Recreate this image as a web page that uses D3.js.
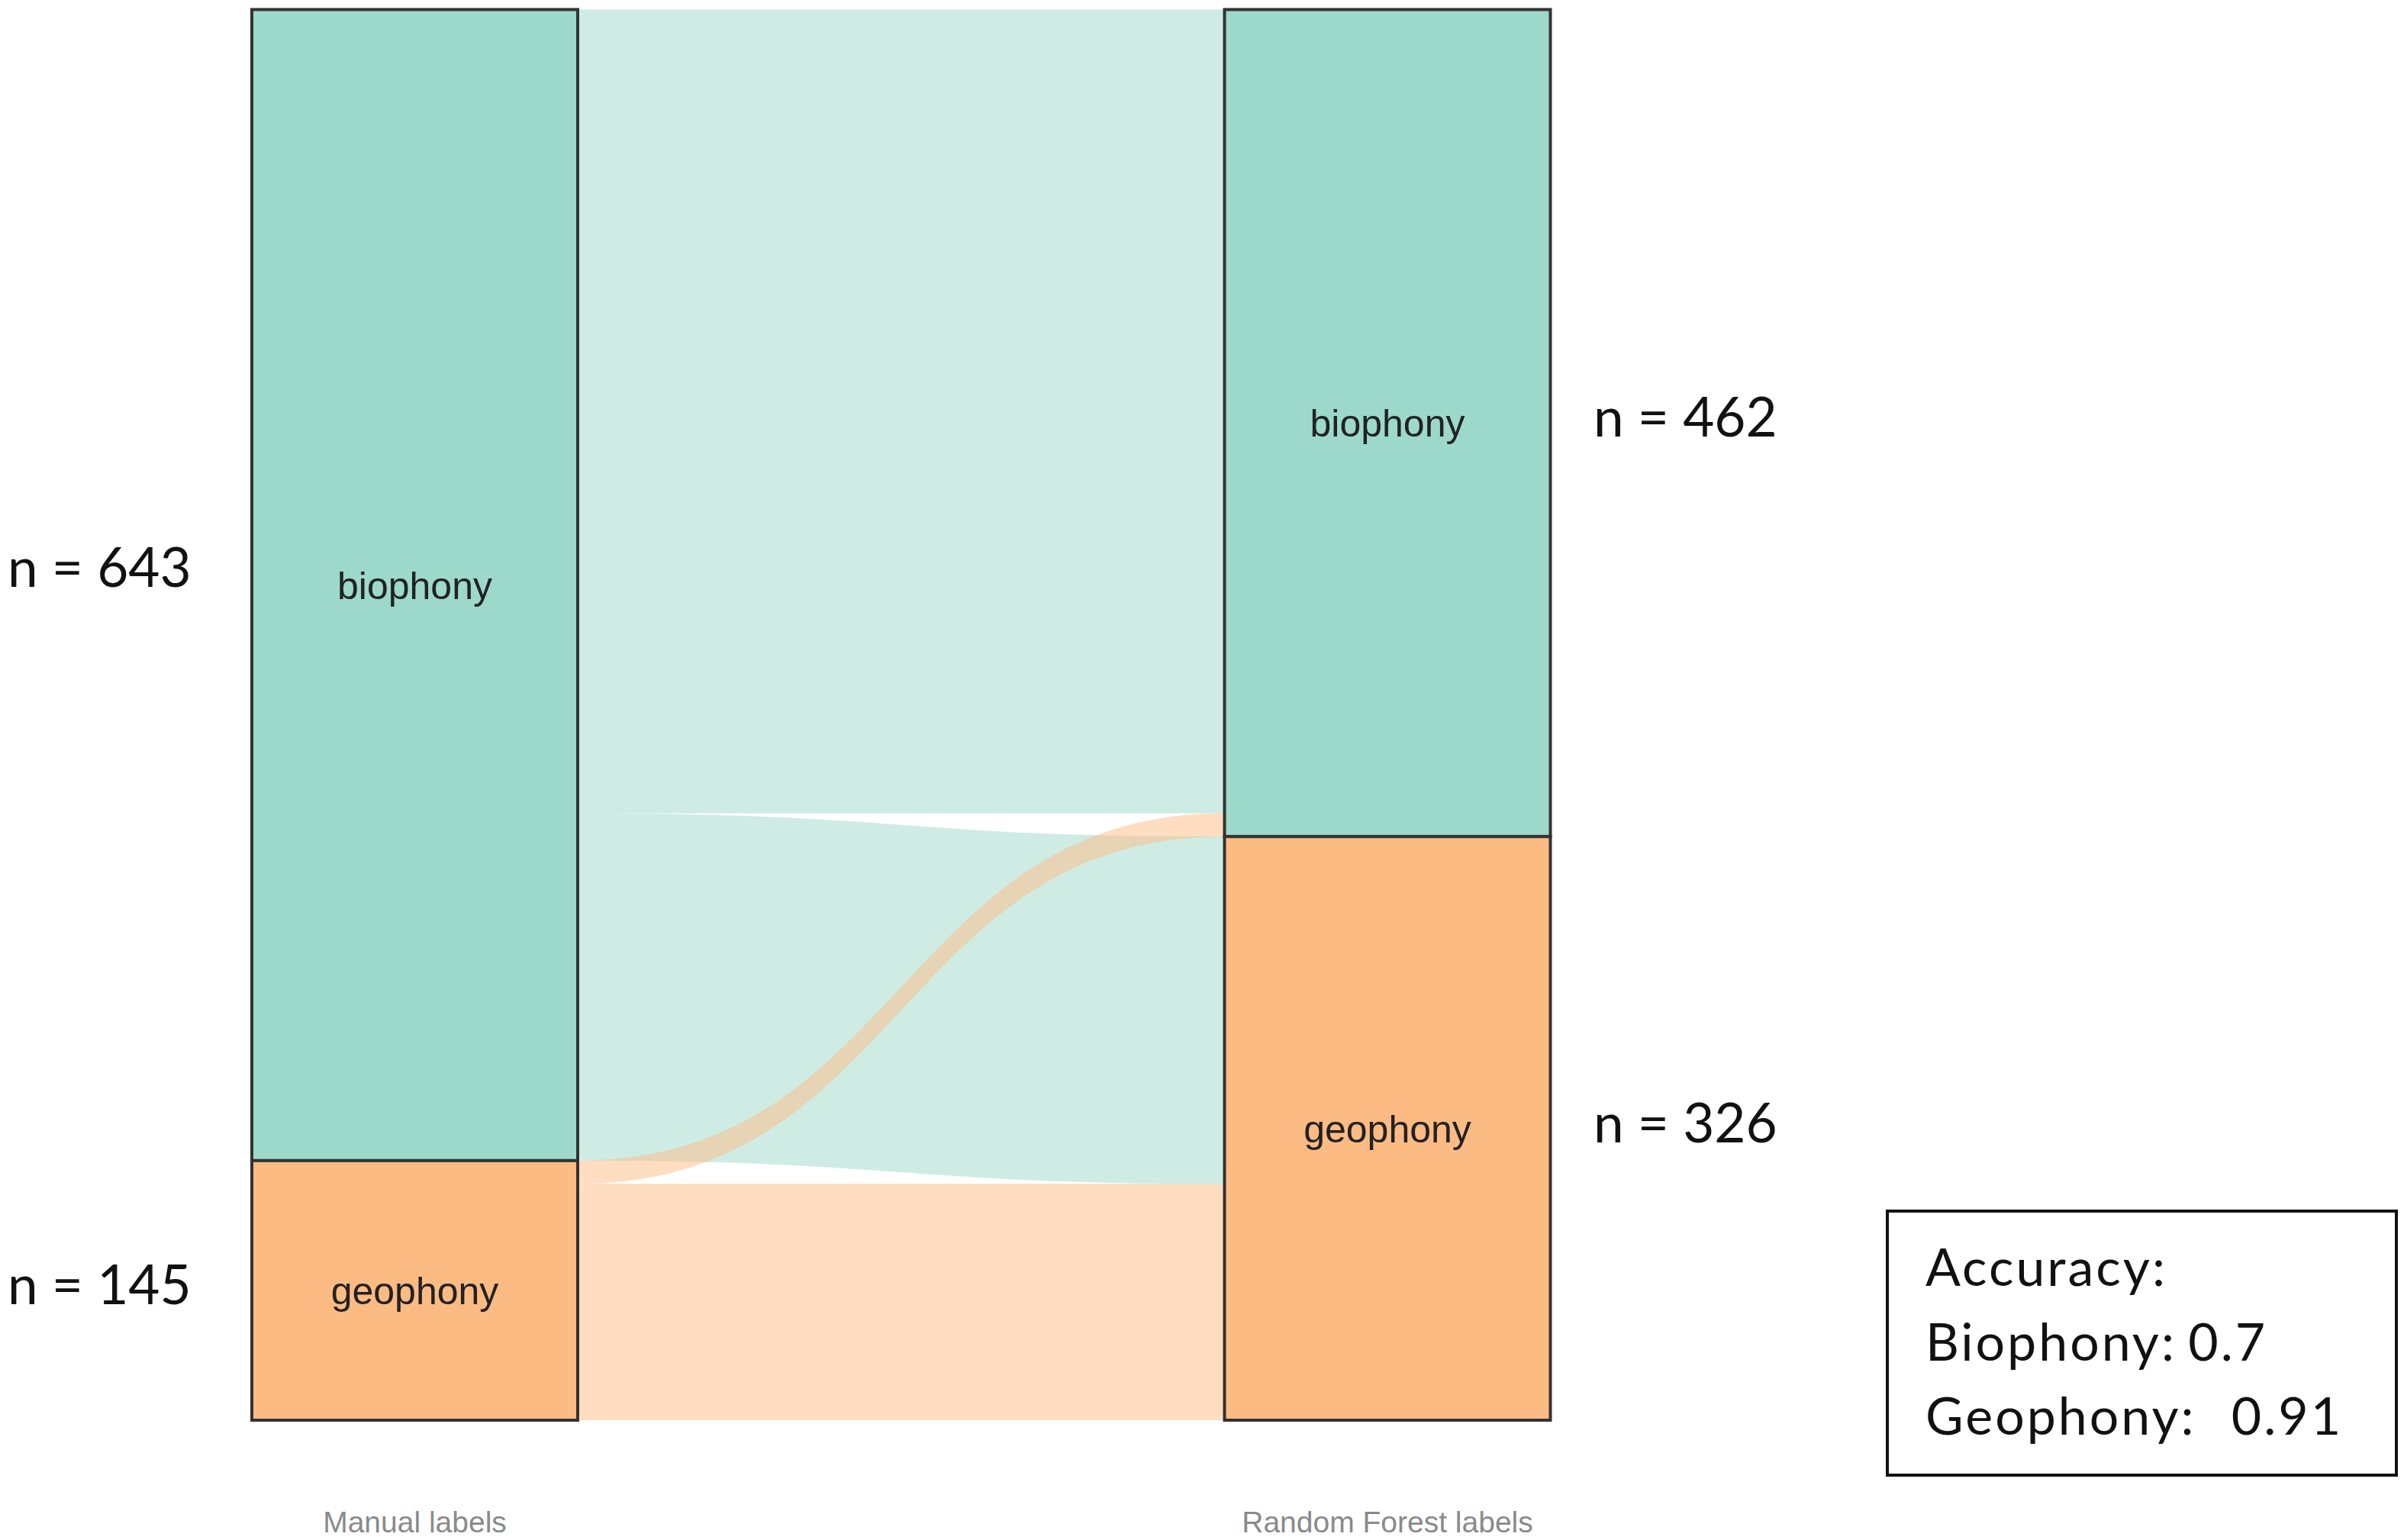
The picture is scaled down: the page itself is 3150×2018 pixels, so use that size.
<!DOCTYPE html>
<html><head><meta charset="utf-8">
<script src="https://cdn.jsdelivr.net/npm/d3@7"></script>
<style>html,body{margin:0;padding:0;background:#fff;} svg{display:block}</style>
</head><body><svg id="c" width="3150" height="2018"></svg>
<script>
// ---- data ----
const axes = ["Manual labels", "Random Forest labels"];
const classes = ["biophony", "geophony"];
const classColors = ["#9DD9CA", "#FDBB84"];
const flowSource = ["biophony", "biophony", "geophony", "geophony"];
const flowTarget = ["biophony", "geophony", "biophony", "geophony"];
const flowCount = [449, 194, 13, 132];
const accuracyLines = ["Accuracy:", "Biophony: 0.7", "Geophony:   0.91"];

// ---- layout ----
const svg = d3.select("#c");
const total = d3.sum(flowCount);
const y = d3.scaleLinear().domain([0, total]).range([12.5, 1861]);
const x = d3.scalePoint().domain(axes).range([543.5, 1818]);
const barW = 427;
const color = d3.scaleOrdinal().domain(classes).range(classColors);

const flows = flowCount.map((v, i) => ({ s: flowSource[i], t: flowTarget[i], v }));

function nodes(axisIdx) {
  let acc = 0;
  return classes.map(c => {
    const v = d3.sum(flows.filter(f => (axisIdx === 0 ? f.s : f.t) === c), f => f.v);
    const n = { axis: axisIdx, cls: c, v, y0: acc, y1: acc + v };
    acc += v;
    return n;
  });
}
const leftNodes = nodes(0), rightNodes = nodes(1);

leftNodes.forEach(n => {
  let acc = n.y0;
  classes.forEach(tc => flows.filter(f => f.s === n.cls && f.t === tc).forEach(f => { f.l0 = acc; acc += f.v; f.l1 = acc; }));
});
rightNodes.forEach(n => {
  let acc = n.y0;
  classes.forEach(sc => flows.filter(f => f.t === n.cls && f.s === sc).forEach(f => { f.r0 = acc; acc += f.v; f.r1 = acc; }));
});

const xL = x(axes[0]) + barW / 2, xR = x(axes[1]) - barW / 2, xm = (xL + xR) / 2;
function flowPath(f) {
  const p = d3.path();
  p.moveTo(xL, y(f.l0));
  p.bezierCurveTo(xm, y(f.l0), xm, y(f.r0), xR, y(f.r0));
  p.lineTo(xR, y(f.r1));
  p.bezierCurveTo(xm, y(f.r1), xm, y(f.l1), xL, y(f.l1));
  p.closePath();
  return p.toString();
}

const order = flows.slice().sort((a, b) => (a.s !== a.t) - (b.s !== b.t) || (a.s === "geophony") - (b.s === "geophony"));
svg.append("g").selectAll("path").data(order).join("path")
  .attr("d", flowPath)
  .attr("fill", f => color(f.s))
  .attr("fill-opacity", 0.5);

const allNodes = leftNodes.concat(rightNodes);
svg.append("g").selectAll("rect").data(allNodes).join("rect")
  .attr("x", n => x(axes[n.axis]) - barW / 2)
  .attr("y", n => y(n.y0))
  .attr("width", barW)
  .attr("height", n => y(n.y1) - y(n.y0))
  .attr("fill", n => color(n.cls))
  .attr("stroke", "#333")
  .attr("stroke-width", 4);

svg.append("g").selectAll("text").data(allNodes).join("text")
  .attr("x", n => x(axes[n.axis]))
  .attr("y", n => (y(n.y0) + y(n.y1)) / 2 + 18)
  .attr("text-anchor", "middle")
  .attr("font-family", "Liberation Sans, Arial, sans-serif")
  .attr("font-size", 50)
  .attr("fill", "#222")
  .text(n => n.cls);

// n labels (left biophony label sits slightly higher in the original)
const nLabelShift = n => (n.axis === 0 && n.cls === "biophony") ? -16 : 0;
svg.append("g").selectAll("text").data(allNodes).join("text")
  .attr("x", n => n.axis === 0 ? 10 : 2088)
  .attr("y", n => (y(n.y0) + y(n.y1)) / 2 + 18 + nLabelShift(n))
  .attr("font-family", "Lato, sans-serif")
  .attr("font-size", 71)
  .attr("fill", "#111")
  .text(n => "n = " + n.v);

svg.append("g").selectAll("text").data(axes).join("text")
  .attr("x", d => x(d))
  .attr("y", 2008)
  .attr("text-anchor", "middle")
  .attr("font-family", "Liberation Sans, Arial, sans-serif")
  .attr("font-size", 39)
  .attr("fill", "#8a8a8a")
  .text(d => d);

svg.append("rect")
  .attr("x", 2473).attr("y", 1587).attr("width", 667).attr("height", 346)
  .attr("fill", "#fff").attr("stroke", "#111").attr("stroke-width", 4);
svg.append("g").selectAll("text").data(accuracyLines).join("text")
  .attr("x", 2523)
  .attr("y", (d, i) => 1685 + i * 97.5)
  .attr("font-family", "Lato, sans-serif")
  .attr("font-size", 68)
  .attr("letter-spacing", 3)
  .attr("word-spacing", -5)
  .attr("fill", "#111")
  .style("white-space", "pre")
  .text(d => d);
</script>
</body></html>
